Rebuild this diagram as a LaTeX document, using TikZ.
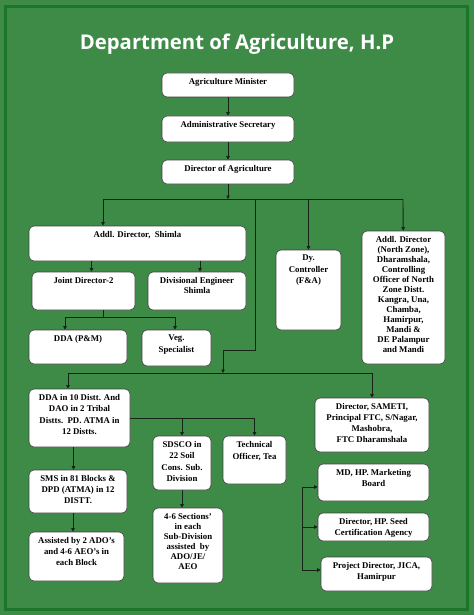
\documentclass[tikz,border=0pt]{standalone}
\usepackage{fontspec}
\setmainfont{Liberation Serif}
\newfontfamily\titlefont{Open Sans}
\usetikzlibrary{arrows.meta}
\definecolor{agribg}{RGB}{62,139,72}
\definecolor{agriframe}{RGB}{28,118,42}
\definecolor{agriline}{RGB}{22,36,24}
\newcommand{\cell}[4][11]{\parbox[c][#3pt][t]{#2pt}{\fontsize{8.8}{#1}\selectfont\bfseries\centering\vskip 5pt #4\par}}
\tikzset{
  unit/.style={draw=black!75, fill=white, line width=0.6pt, rounded corners=5pt, inner sep=0pt},
  link/.style={draw=agriline, line width=0.9pt, -{Triangle[length=3.5pt,width=3.5pt]}},
  wire/.style={draw=agriline, line width=0.9pt}
}
\begin{document}
\begin{tikzpicture}[x=1pt,y=-1pt]
      \useasboundingbox (0,0) rectangle (474,615);
      \fill[agribg] (0,0) rectangle (474,615);
      \draw[agriframe, line width=3pt] (5,7) rectangle (467,609);
      \node[anchor=base, text=white, font=\titlefont\bfseries\fontsize{20.3}{22}\selectfont] (title) at (237,50) {Department of Agriculture, H.P};
      % top chain
      \node[unit] (minister) at (228,85) {\cell{132}{24}{Agriculture Minister}};
      \node[unit] (secretary) at (228,129) {\cell{132}{26}{Administrative Secretary}};
      \node[unit] (director) at (228,172) {\cell{132}{24}{Director of Agriculture}};
      % second row
      \node[unit] (addlshimla) at (137.5,243.5) {\cell{217}{35}{Addl. Director,\ \ Shimla}};
      \node[unit] (jd) at (83.5,291) {\cell{103}{38}{Joint Director-2}};
      \node[unit] (divengg) at (197,291) {\cell[10]{98}{38}{Divisional Engineer\\Shimla}};
      \node[unit] (ddapm) at (78,347) {\cell{98}{34}{DDA (P\&M)}};
      \node[unit] (veg) at (176.5,348) {\cell[11.5]{69}{36}{Veg.\\Specialist}};
      \node[unit] (dyctrl) at (308.5,290) {\cell[11.5]{65}{80}{Dy.\\Controller\\(F\&A)}};
      \node[unit] (northzone) at (403.5,297.5) {\cell[10]{83}{133}{Addl. Director\\(North Zone),\\Dharamshala,\\Controlling\\Officer of North\\Zone Distt.\\Kangra, Una,\\Chamba,\\Hamirpur,\\Mandi \&\\DE Palampur\\and Mandi}};
      % lower part
      \node[unit] (ddadistt) at (79.5,418) {\cell[11.5]{101}{58}{DDA in 10 Distt. And\\DAO in 2 Tribal\\Distts.\ \ PD. ATMA in\\12 Distts.}};
      \node[unit] (sameti) at (372,425) {\cell{114}{54}{Director, SAMETI,\\Principal FTC, S/Nagar,\\Mashobra,\\FTC Dharamshala}};
      \node[unit] (sdsco) at (182,463) {\cell[11.5]{58}{54}{SDSCO in\\22 Soil\\Cons. Sub.\\Division}};
      \node[unit] (techoff) at (254.5,460) {\cell[12]{63}{48}{Technical\\Officer, Tea}};
      \node[unit] (sms) at (78,491.5) {\cell{98}{43}{SMS in 81 Blocks \&\\DPD (ATMA) in 12\\DISTT.}};
      \node[unit] (assisted) at (76.5,556.5) {\cell{95}{49}{Assisted by 2 ADO's\\and 4-6 AEO's in\\each Block}};
      \node[unit] (sections) at (188,545.5) {\cell[10]{70}{75}{4-6 Sections'\\in each\\Sub-Division\\assisted\ \ by\\ADO/JE/\\AEO}};
      \node[unit] (mdhp) at (373.5,482.5) {\cell[11.5]{111}{37}{MD, HP. Marketing\\Board}};
      \node[unit] (seed) at (373.5,527) {\cell[11.5]{111}{28}{Director, HP. Seed\\Certification Agency}};
      \node[unit] (jica) at (376.5,574) {\cell[11.5]{111}{34}{Project Director, JICA,\\Hamirpur}};
      % junctions
      \coordinate (busA) at (103,199);
      \coordinate (busB) at (403,199);
      \coordinate (drop) at (255,199);
      \coordinate (turn1) at (255,350);
      \coordinate (turn2) at (223,350);
      \coordinate (busC) at (68,373);
      \coordinate (busD) at (372,373);
      \coordinate (jdbus) at (103,317);
      \coordinate (rtop) at (302,487);
      \coordinate (rmid) at (302,527);
      \coordinate (rbot) at (302,570);
      \begin{scope}
        \draw[link] (minister) -- (secretary);
        \draw[link] (secretary) -- (director);
        \draw[link] (director) -- (director |- busA);
        \draw[wire] (busA) -- (busB);
        \draw[link] (busA) -- (busA |- addlshimla.north);
        \draw[link] (dyctrl |- busA) -- (dyctrl);
        \draw[link] (busB) -- (northzone);
        \draw[link] ([xshift=8pt]jd.north |- addlshimla.south) -- ([xshift=8pt]jd.north);
        \draw[link] ([xshift=3pt]divengg.north |- addlshimla.south) -- ([xshift=3pt]divengg.north);
        \draw[wire] (jdbus |- jd.south) -- (jdbus);
        \draw[link] (jdbus) -| ([xshift=-13pt]ddapm.north);
        \draw[link] (jdbus) -| ([xshift=-1.5pt]veg.north);
        \draw[wire] (drop) -- (turn1) -- (turn2);
        \draw[link] (turn2) -- (turn2 |- busC);
        \draw[wire] (busC) -- (busD);
        \draw[link] (busC) -- (busC |- ddadistt.north);
        \draw[link] (busD) -- (sameti);
        \draw[link] (ddadistt.east) -| (sdsco);
        \draw[link] (ddadistt.east) -| (techoff);
        \draw[link] ([xshift=-6pt]ddadistt.south) -- ([xshift=-6pt]ddadistt.south |- sms.north);
        \draw[link] ([xshift=-5pt]sms.south) -- ([xshift=-5pt]sms.south |- assisted.north);
        \draw[link] (sdsco) -- (sdsco |- sections.north);
        \draw[wire] (rtop) -- (rbot);
        \draw[link] (rtop) -- (rtop -| mdhp.west);
        \draw[link] (rmid) -- (rmid -| seed.west);
        \draw[link] (rbot) -- (rbot -| jica.west);
      \end{scope}
    \end{tikzpicture}
\end{document}
